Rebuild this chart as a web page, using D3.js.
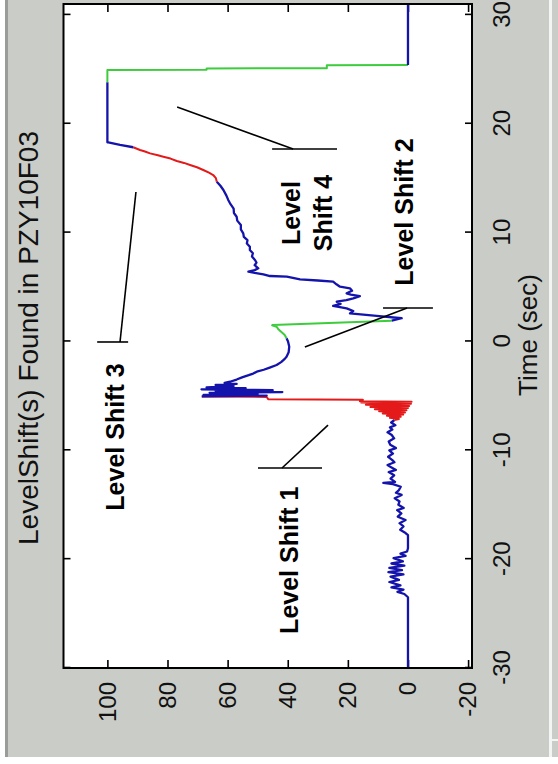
<!DOCTYPE html>
<html><head><meta charset="utf-8">
<script src="https://cdn.jsdelivr.net/npm/d3@7"></script>
<style>html,body{margin:0;padding:0;background:#fff;} svg{display:block}</style>
</head><body>
<script>
// ---------- data ----------
const timeTicks = [-30, -20, -10, 0, 10, 20, 30];
const valueTicks = [-20, 0, 20, 40, 60, 80, 100];
const timeDomain = [-30, 31];
const valueDomain = [-21.3, 114.6];

const blue1 = [[-30,0],[-23.5,0],[-23.2,1.2],[-23.0,3.5],[-22.8,1.5],[-22.6,5.5],[-22.4,2.5],[-22.1,6.2],[-21.9,3],[-21.6,5.8],[-21.4,1.5],[-21.2,6.5],[-21.0,2],[-20.8,6.2],[-20.6,1.2],[-20.4,5.5],[-20.2,1.7],[-19.9,4.8],[-19.7,0.8],[-19.5,2.5],[-19.3,0.3],[-19.0,0],[-17.8,0],
[-17.6,0.8],[-17.3,2.6],[-17.0,1.5],[-16.7,2.8],[-16.4,0.8],[-16.1,3.4],[-15.8,2.2],[-15.5,3.6],[-15.3,1.4],[-15.0,3.2],[-14.7,2.8],[-14.4,4.4],[-14.1,2.1],[-13.9,4.0],[-13.65,3.0],[-13.35,2.4],[-13.1,5.0],[-13.0,8.2],[-12.9,4.3],[-12.6,5.8],[-12.3,4.6],[-12.0,6.4],[-11.8,4.0],[-11.55,5.6],[-11.35,6.8],[-11.1,4.5],[-10.9,5.2],[-10.6,6.6],[-10.3,5.0],[-10.0,6.2],[-9.8,4.0],[-9.5,5.9],[-9.2,6.4],[-8.9,4.6],[-8.6,5.4],[-8.35,6.8],[-8.1,5.2],[-7.9,6.0],[-7.7,4.2],[-7.45,5.6],[-7.22,4.5]];
const red1 = [[-7.22,4.5],[-7.12,3],[-7.02,6],[-6.92,2.4],[-6.82,7],[-6.72,1.6],[-6.62,8.4],[-6.52,1],[-6.42,9.6],[-6.32,0.5],[-6.22,11],[-6.12,0],[-6.02,12.5],[-5.92,-0.4],[-5.82,14],[-5.72,-1],[-5.62,15.5],[-5.55,-1.2],[-5.5,16],[-5.35,15],[-5.3,46.5],[-5.1,47],[-5.05,68.6]];
const blue2 = [[-5.05,68.6],[-4.97,47],[-4.9,68],[-4.8,50],[-4.72,66],[-4.65,41.8],[-4.55,64],[-4.48,45],[-4.4,68.7],[-4.3,54],[-4.22,67],[-4.1,58],[-4.0,64],[-3.9,57],[-3.8,61],[-3.7,59.2],[-3.5,57],[-3.3,55.2],[-3.1,53],[-2.95,51.5],[-2.78,50.3],[-2.6,48],[-2.4,46],[-2.16,43.7],[-1.9,42.2],[-1.6,41],[-1.4,40.4],[-1.0,39.7],[-0.48,39.5],[0.0,39.9],[0.29,40.4]];
const green1 = [[0.29,40.4],[0.6,41],[0.9,42.2],[1.15,43.2],[1.35,43.7],[1.48,45.2],[1.52,45],[1.91,5.4]];
const blue3 = [[1.91,5.4],[2.13,2.1],[2.34,10.4],[2.58,19.3],[2.8,18.2],[3.04,20.4],[3.26,24.9],[3.45,22.4],[3.65,23.7],[3.8,20.5],[3.96,18.2],[4.17,16.0],[4.3,19.0],[4.42,20.4],[4.65,18.6],[4.88,19.3],[5.03,22.6],[5.25,23.8],[5.49,24.9],[5.6,30],[5.71,35.9],[5.95,40.3],[6.01,45.9],[6.17,48.1],[6.3,51],[6.41,53.1],[6.55,51],[6.72,49.8],[7.0,51.0],[7.25,50.4],[7.48,50.9],[7.8,51.9],[8.1,51.6],[8.4,52.6],[8.7,52.6],[9.0,53.6],[9.3,53.4],[9.6,54.6],[9.93,54.8],[10.3,55.6],[10.7,55.6],[11.1,56.8],[11.46,57.0],[11.8,57.9],[12.2,58.0],[12.69,59.2],[13.0,59.8],[13.4,60.4],[13.91,61.4],[14.3,62.4],[14.67,63.6]];
const red2 = [[14.67,63.6],[15.0,63.9],[15.29,64.8],[15.5,66.2],[15.75,68.1],[16.0,70.2],[16.21,72.5],[16.4,74.5],[16.58,76.9],[16.8,79],[16.97,81.4],[17.1,83.2],[17.28,85.8],[17.45,87.5],[17.59,89.15],[17.84,91.4]];
const blue4 = [[17.84,91.4],[18.05,95.8],[18.29,99.7],[18.3,100],[23.8,100]];
const green2 = [[23.8,100],[24.94,100],[24.96,67],[25.08,67],[25.1,27],[25.38,27],[25.4,0]];
const blue5 = [[25.4,0],[31,0]];

const annoText = [["Level Shift 1"], ["Level Shift 2"], ["Level Shift 3"], ["Level", "Shift 4"]];
const annoTextPos = [[-20.1, 36.6], [11.89, -1.67], [-8.78, 94.6], [11.8, 35.9]];
const annoBar = [[-11.63, 49.9, 28.6], [3.07, 8.3, -8.3], [-0.05, 103.4, 93.1], [17.68, 45.2, 23.6]];
const annoLeader = [[[-11.63, 41.9], [-7.68, 26.6]], [[3.07, 0.3], [-0.51, 34.3]], [[-0.05, 95.8], [13.73, 90.5]], [[17.68, 38.2], [21.54, 76.8]]];

// ---------- drawing ----------
const BLUE = "#1414ac", RED = "#e41a1a", GREEN = "#3ccc3c";
const segments = [
  {c: BLUE, p: blue1}, {c: RED, p: red1}, {c: BLUE, p: blue2}, {c: GREEN, p: green1},
  {c: BLUE, p: blue3}, {c: RED, p: red2}, {c: BLUE, p: blue4}, {c: GREEN, p: green2}, {c: BLUE, p: blue5}
];

const svg = d3.select("body").append("svg").attr("width", 558).attr("height", 764);
svg.append("rect").attr("width", 558).attr("height", 764).attr("fill", "#fff");
svg.append("rect").attr("x", 5).attr("y", 0).attr("width", 553).attr("height", 757).attr("fill", "#c9ccc7");
svg.append("rect").attr("x", 5).attr("y", 0).attr("width", 3).attr("height", 757).attr("fill", "#9a9c99");
svg.append("rect").attr("x", 549).attr("y", 0).attr("width", 3).attr("height", 757).attr("fill", "#f4f4f4");
svg.append("rect").attr("x", 549).attr("y", 739).attr("width", 9).attr("height", 2).attr("fill", "#f4f4f4");

const W = 664, H = 408.5;
const x = d3.scaleLinear().domain(timeDomain).range([0, W]);
const y = d3.scaleLinear().domain(valueDomain).range([H, 0]);

const g = svg.append("g").attr("transform", "translate(63.5,668) rotate(-90)");
g.append("rect").attr("width", W).attr("height", H).attr("fill", "#fff");

const FONT = "'Liberation Sans', Arial, Helvetica, sans-serif";
const fmt = d => String(d);

const ax1 = g.append("g").attr("transform", `translate(0,${H})`)
  .call(d3.axisBottom(x).tickValues(timeTicks).tickSize(-7).tickSizeOuter(0).tickPadding(21).tickFormat(fmt));
const ax2 = g.append("g")
  .call(d3.axisLeft(y).tickValues(valueTicks).tickSize(-8).tickSizeOuter(0).tickPadding(14).tickFormat(fmt));
const ax3 = g.append("g")
  .call(d3.axisTop(x).tickValues(timeTicks).tickSize(-7).tickSizeOuter(0).tickFormat(""));
const ax4 = g.append("g").attr("transform", `translate(${W},0)`)
  .call(d3.axisRight(y).tickValues(valueTicks).tickSize(-8).tickSizeOuter(0).tickFormat(""));
[ax1, ax2, ax3, ax4].forEach(a => {
  a.select(".domain").remove();
  a.selectAll(".tick line").attr("stroke", "#000").attr("stroke-width", 1.6);
  a.selectAll(".tick text").attr("font-family", FONT).attr("font-size", 24).attr("fill", "#111");
});

g.append("clipPath").attr("id", "clip").append("rect").attr("width", W).attr("height", H);
const line = d3.line().x(d => x(d[0])).y(d => y(d[1]));
g.append("g").attr("clip-path", "url(#clip)").selectAll("path").data(segments).join("path")
  .attr("d", d => line(d.p)).attr("fill", "none").attr("stroke", d => d.c)
  .attr("stroke-width", d => d.c === BLUE ? 2.3 : 2).attr("stroke-linejoin", "round");

g.append("rect").attr("width", W).attr("height", H).attr("fill", "none").attr("stroke", "#000").attr("stroke-width", 2);

// annotations
annoLeader.forEach(l => {
  g.append("line").attr("x1", x(l[0][0])).attr("y1", y(l[0][1])).attr("x2", x(l[1][0])).attr("y2", y(l[1][1]))
    .attr("stroke", "#000").attr("stroke-width", 1.6);
});
annoBar.forEach(b => {
  g.append("line").attr("x1", x(b[0])).attr("y1", y(b[1])).attr("x2", x(b[0])).attr("y2", y(b[2]))
    .attr("stroke", "#000").attr("stroke-width", 1.6);
});
annoText.forEach((lines, i) => {
  const [t, v] = annoTextPos[i];
  const txt = g.append("text").attr("font-family", FONT).attr("font-weight", "bold").attr("font-size", 25)
    .attr("text-anchor", "middle").attr("fill", "#000");
  if (lines.length === 1) {
    txt.attr("x", x(t)).attr("y", y(v)).text(lines[0]);
  } else {
    lines.forEach((s, k) => txt.append("tspan").attr("x", x(t)).attr("y", y(v) + k * 32).text(s));
  }
});

// title and axis label
g.append("text").attr("x", W / 2 - 2).attr("y", -25.5).attr("text-anchor", "middle")
  .attr("font-family", FONT).attr("font-size", 28).attr("fill", "#111").text("LevelShift(s) Found in PZY10F03");
g.append("text").attr("x", W / 2 + 1).attr("y", H + 65).attr("text-anchor", "middle")
  .attr("font-family", FONT).attr("font-size", 26).attr("fill", "#111").text("Time (sec)");
</script>
</body></html>
